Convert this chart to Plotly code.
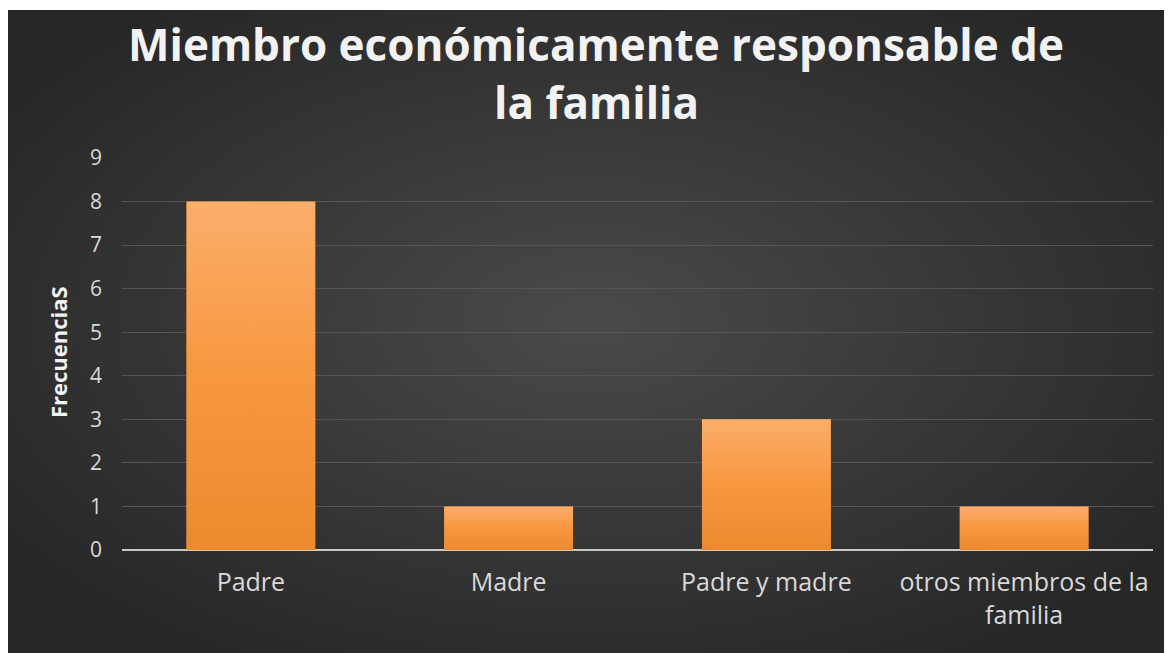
import base64
import plotly.graph_objects as go

categories = ["Padre", "Madre", "Padre y madre", "otros miembros de la<br>familia"]
values = [8, 1, 3, 1]
y_ticks = [0, 1, 2, 3, 4, 5, 6, 7, 8, 9]
title_lines = ["Miembro económicamente responsable de", "la familia"]
y_title = "FrecuenciaS"

# page is rendered with an 8px body margin -> work in page pixels, shift by OFF
OFF = 8
W, H = 1172 - OFF, 653 - OFF
PL, PR, PT, PB = 122, 1153, 158, 550  # plot area in page pixels
L, R, T, B = PL - OFF, W - (PR - OFF), PT - OFF, H - (PB - OFF)
pw, ph = W - L - R, H - T - B
BAR_W = 0.5


def px_x(p):
    return (p - OFF - L) / pw


def px_y(p):
    return (PB - p) / ph


def svg_uri(svg):
    return "data:image/svg+xml;base64," + base64.b64encode(svg.encode()).decode()


bg_svg = '''<svg xmlns="http://www.w3.org/2000/svg" width="1166" height="643" viewBox="0 0 1166 643" preserveAspectRatio="none">
<defs><radialGradient id="g" cx="0.5" cy="0.48" r="0.62" gradientUnits="objectBoundingBox">
<stop offset="0" stop-color="#4a4a4a"/><stop offset="1" stop-color="#262626"/></radialGradient></defs>
<rect width="1166" height="643" fill="url(#g)"/></svg>'''

bar_svg = '''<svg xmlns="http://www.w3.org/2000/svg" width="100" height="100" viewBox="0 0 100 100" preserveAspectRatio="none">
<defs><linearGradient id="b" x1="0" y1="0" x2="0" y2="1">
<stop offset="0" stop-color="#fbae6b"/><stop offset="0.5" stop-color="#f7973f"/><stop offset="1" stop-color="#ec8a2f"/></linearGradient></defs>
<rect width="100" height="100" fill="url(#b)"/></svg>'''

fig = go.Figure()
fig.add_trace(go.Bar(
    x=categories, y=values,
    marker=dict(color="#f7963f", line=dict(width=0)),
    width=BAR_W,
))

fig.add_layout_image(dict(
    source=svg_uri(bg_svg), xref="paper", yref="paper",
    x=px_x(6), y=px_y(10), sizex=px_x(1180) - px_x(6), sizey=px_y(10) - px_y(660),
    xanchor="left", yanchor="top", sizing="stretch", layer="below",
))

# gradient fill overlay on each bar, placed via the data axes
for i, v in enumerate(values):
    fig.add_layout_image(dict(
        source=svg_uri(bar_svg), xref="x", yref="y",
        x=i, y=v, sizex=BAR_W, sizey=v,
        xanchor="center", yanchor="top", sizing="stretch", layer="above",
    ))

for line, ypix in zip(title_lines, [44, 102]):
    fig.add_annotation(
        text=line, xref="paper", yref="paper",
        x=px_x(596), y=px_y(ypix), xanchor="center", yanchor="middle",
        showarrow=False,
        font=dict(family="Open Sans", size=44, color="#f2f2f2", weight="bold"),
    )

fig.add_annotation(
    text=y_title, xref="paper", yref="paper",
    x=px_x(58), y=px_y(352), xanchor="center", yanchor="middle",
    textangle=-90, showarrow=False,
    font=dict(family="Open Sans", size=22, color="#f2f2f2", weight="bold"),
)

fig.update_layout(
    width=W, height=H,
    margin=dict(l=L, r=R, t=T, b=B),
    paper_bgcolor="white",
    plot_bgcolor="rgba(0,0,0,0)",
    showlegend=False,
    font=dict(family="Open Sans", color="#d9d9d9"),
    bargap=0.5,
)
fig.update_xaxes(
    showgrid=False, showline=False, ticks="",
    tickfont=dict(size=25, color="#d9d9d9"),
    zeroline=False,
    ticklabelstandoff=15,
)
fig.update_yaxes(
    range=[0, 9], tickvals=y_ticks,
    showgrid=True, gridcolor="#555555", gridwidth=1,
    zeroline=True, zerolinecolor="#c8c8c8", zerolinewidth=2,
    showline=False, ticks="",
    tickfont=dict(size=21, color="#d9d9d9"),
    ticklabelstandoff=19,
)

fig.write_html("out.html")
